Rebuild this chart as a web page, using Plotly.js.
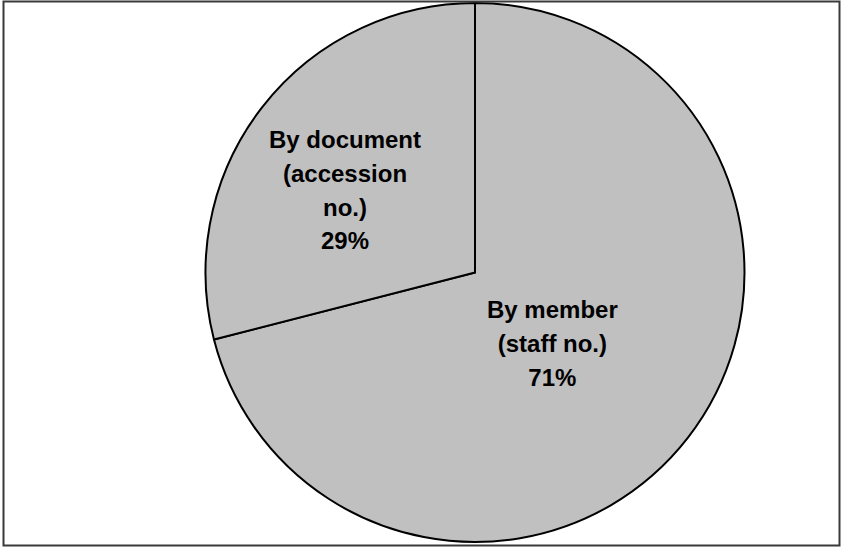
<!DOCTYPE html>
<html>
<head>
<meta charset="utf-8">
<script src="https://cdn.plot.ly/plotly-3.0.1.min.js"></script>
<style>
  html, body { margin: 0; padding: 0; background: #ffffff; }
  #chart { width: 841px; height: 547px; }
</style>
</head>
<body>
<div id="chart"></div>
<script>
// Share of loan records by lookup method
const categories = ['By member (staff no.)', 'By document (accession no.)'];
const labelLines = [['By member', '(staff no.)'], ['By document', '(accession', 'no.)']];
const shares = [71, 29];

const W = 841, H = 547;
const total = shares.reduce((a, b) => a + b, 0);

// label anchor points (paper fractions), one per slice
const labelX = [552 / W, 345 / W];
const labelY = [1 - 343 / H, 1 - 190.5 / H];

const trace = {
  type: 'pie',
  labels: categories,
  values: shares,
  sort: false,
  direction: 'clockwise',
  rotation: 0,
  marker: {
    colors: ['#c0c0c0', '#c0c0c0'],
    line: { color: '#000000', width: 2 }
  },
  textinfo: 'none',
  hoverinfo: 'none',
  showlegend: false,
  domain: {
    x: [205.5 / W, 744.5 / W],
    y: [5 / H, 544 / H]
  }
};

// wrap each line so glyphs stay at 24px while line pitch follows the 26px base size
const wrap = s => '<span style="font-size:24px">' + s + '</span>';
const annotations = categories.map((c, i) => {
  const pct = Math.round(shares[i] / total * 100) + '%';
  const lines = labelLines[i].concat([pct]);
  return {
    xref: 'paper', yref: 'paper',
    x: labelX[i], y: labelY[i],
    xanchor: 'center', yanchor: 'middle',
    align: 'center',
    showarrow: false,
    text: lines.map(wrap).join('<br>'),
    font: { family: 'Liberation Sans, Arial, sans-serif', size: 26, color: '#000000', weight: 'bold' }
  };
});

const layout = {
  width: W,
  height: H,
  margin: { l: 0, r: 0, t: 0, b: 0, pad: 0 },
  paper_bgcolor: '#ffffff',
  plot_bgcolor: '#ffffff',
  showlegend: false,
  annotations: annotations,
  shapes: [{
    type: 'rect',
    xref: 'paper', yref: 'paper',
    x0: 3.5 / W, x1: 839.5 / W,
    y0: 1.5 / H, y1: 545.5 / H,
    line: { color: '#3a3a3a', width: 2 },
    fillcolor: 'rgba(0,0,0,0)',
    layer: 'above'
  }]
};

Plotly.newPlot('chart', [trace], layout, { staticPlot: true, displayModeBar: false });
</script>
</body>
</html>
